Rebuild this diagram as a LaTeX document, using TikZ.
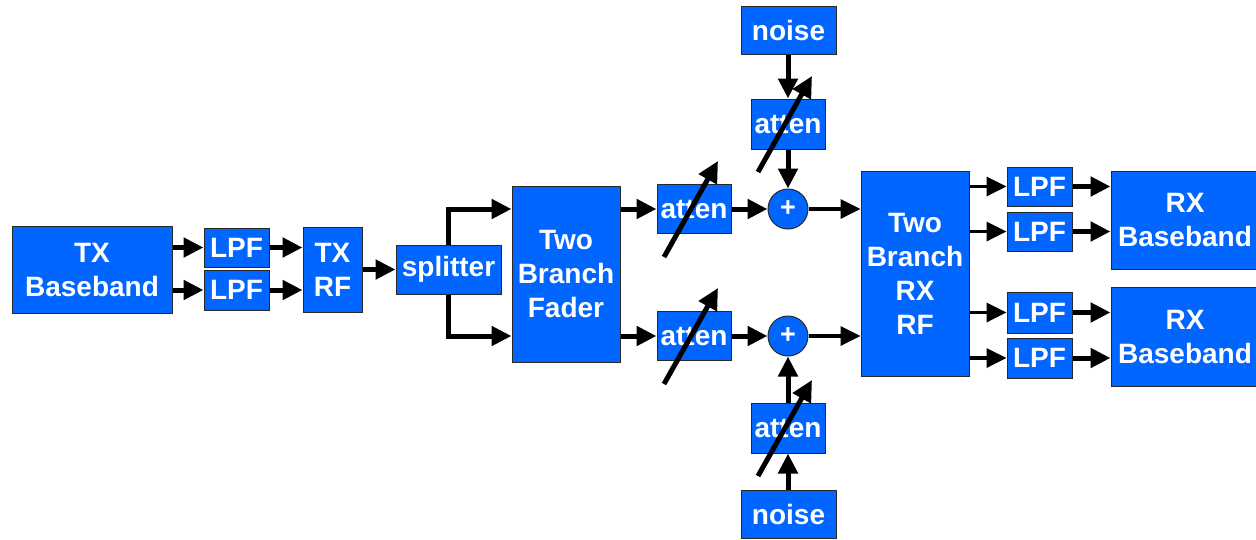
\documentclass[tikz,border=0pt]{standalone}
\usepackage{fontspec}
\setmainfont{Liberation Sans}
\usetikzlibrary{arrows.meta,calc}
\definecolor{blockblue}{RGB}{0,102,255}
\definecolor{edgegray}{RGB}{40,40,40}
\begin{document}
\begin{tikzpicture}[x=1pt,y=-1pt,
  blk/.style={draw=edgegray, line width=1pt, fill=blockblue, text=white,
    font=\fontsize{28}{34}\selectfont\bfseries, align=center, inner sep=0pt},
  sumnode/.style={circle, draw=edgegray, line width=1pt, fill=blockblue, text=white,
    font=\fontsize{27}{27}\selectfont\bfseries, minimum size=40pt, inner sep=0pt},
  arr/.style={line width=5pt, -{Triangle[length=20pt,width=19pt]}},
  thinarr/.style={line width=3.5pt, -{Triangle[length=20pt,width=19pt]}},
  vararr/.style={line width=5pt, -{Triangle[length=21pt,width=20pt]}}
]
\useasboundingbox (0,0) rectangle (1256,539);

% transmitter chain
\node[blk, minimum width=160pt, minimum height=87pt] (txbb) at (92,269.5) {TX\\Baseband};
\node[blk, minimum width=65pt, minimum height=39pt] (lpfa) at (236.5,247.5) {LPF};
\node[blk, minimum width=65pt, minimum height=40pt] (lpfb) at (236.5,290) {LPF};
\node[blk, minimum width=59pt, minimum height=85pt] (txrf) at (332.5,269.5) {TX\\RF};
\node[blk, minimum width=105pt, minimum height=49pt] (split) at (448.5,269.5) {splitter};
\node[blk, minimum width=108pt, minimum height=176pt] (fader) at (566,274) {Two\\Branch\\Fader};

% branch attenuators and noise injection
\node[blk, minimum width=74pt, minimum height=49pt] (atta) at (694,209) {atten};
\node[blk, minimum width=74pt, minimum height=49pt] (attb) at (694,336) {atten};
\node[blk, minimum width=95pt, minimum height=48pt] (noisea) at (788.5,30) {noise};
\node[blk, minimum width=74pt, minimum height=50pt] (natta) at (788,124) {atten};
\node[blk, minimum width=74pt, minimum height=50pt] (nattb) at (788,428) {atten};
\node[blk, minimum width=95pt, minimum height=48pt] (noiseb) at (788.5,514) {noise};
\node[sumnode] (suma) at (788,209) {+};
\node[sumnode] (sumb) at (788,336) {+};

% receiver chain
\node[blk, minimum width=108pt, minimum height=205pt] (rxrf) at (915,273.5) {Two\\Branch\\RX\\RF};
\node[blk, minimum width=65pt, minimum height=39pt] (lpfc) at (1039.5,186.5) {LPF};
\node[blk, minimum width=65pt, minimum height=39pt] (lpfd) at (1039.5,231.5) {LPF};
\node[blk, minimum width=65pt, minimum height=41pt] (lpfe) at (1039.5,312.5) {LPF};
\node[blk, minimum width=65pt, minimum height=40pt] (lpff) at (1039.5,358) {LPF};
\node[blk, minimum width=148pt, minimum height=98pt] (rxbba) at (1185,220) {RX\\Baseband};
\node[blk, minimum width=148pt, minimum height=99pt] (rxbbb) at (1185,336.5) {RX\\Baseband};

% connectors
\draw[arr] (txbb.east |- lpfa.west) -- (lpfa.west);
\draw[arr] (txbb.east |- lpfb.west) -- (lpfb.west);
\draw[arr] (lpfa.east) -- (lpfa.east -| txrf.west);
\draw[arr] (lpfb.east) -- (lpfb.east -| txrf.west);
\draw[arr] (txrf.east) -- (split.west);
\draw[arr] (split.north) |- (atta -| fader.west);
\draw[arr] (split.south) |- (attb -| fader.west);
\draw[arr] (fader.east |- atta) -- (atta.west);
\draw[arr] (fader.east |- attb) -- (attb.west);
\draw[arr] (atta.east) -- (suma.west);
\draw[arr] (attb.east) -- (sumb.west);
\draw[arr] (noisea.south -| natta) -- (natta.north);
\draw[arr] (natta.south) -- (suma.north);
\draw[arr] (noiseb.north -| nattb) -- (nattb.south);
\draw[arr] (nattb.north) -- (sumb.south);
\draw[thinarr] (suma.east) -- (suma -| rxrf.west);
\draw[thinarr] (sumb.east) -- (sumb -| rxrf.west);
\foreach \f/\b in {lpfc/rxbba, lpfd/rxbba, lpfe/rxbbb, lpff/rxbbb}{
  \draw[thinarr] (\f -| rxrf.east) -- (\f.west);
  \draw[arr] (\f.east) -- (\f -| \b.west);
}

% variable-attenuator slashes
\foreach \a in {atta, attb, natta, nattb}{
  \coordinate (\a-lo) at ([shift={(-30,48)}]\a.center);
  \coordinate (\a-hi) at ([shift={(24,-48)}]\a.center);
  \draw[vararr] (\a-lo) -- (\a-hi);
}
\end{tikzpicture}
\end{document}
